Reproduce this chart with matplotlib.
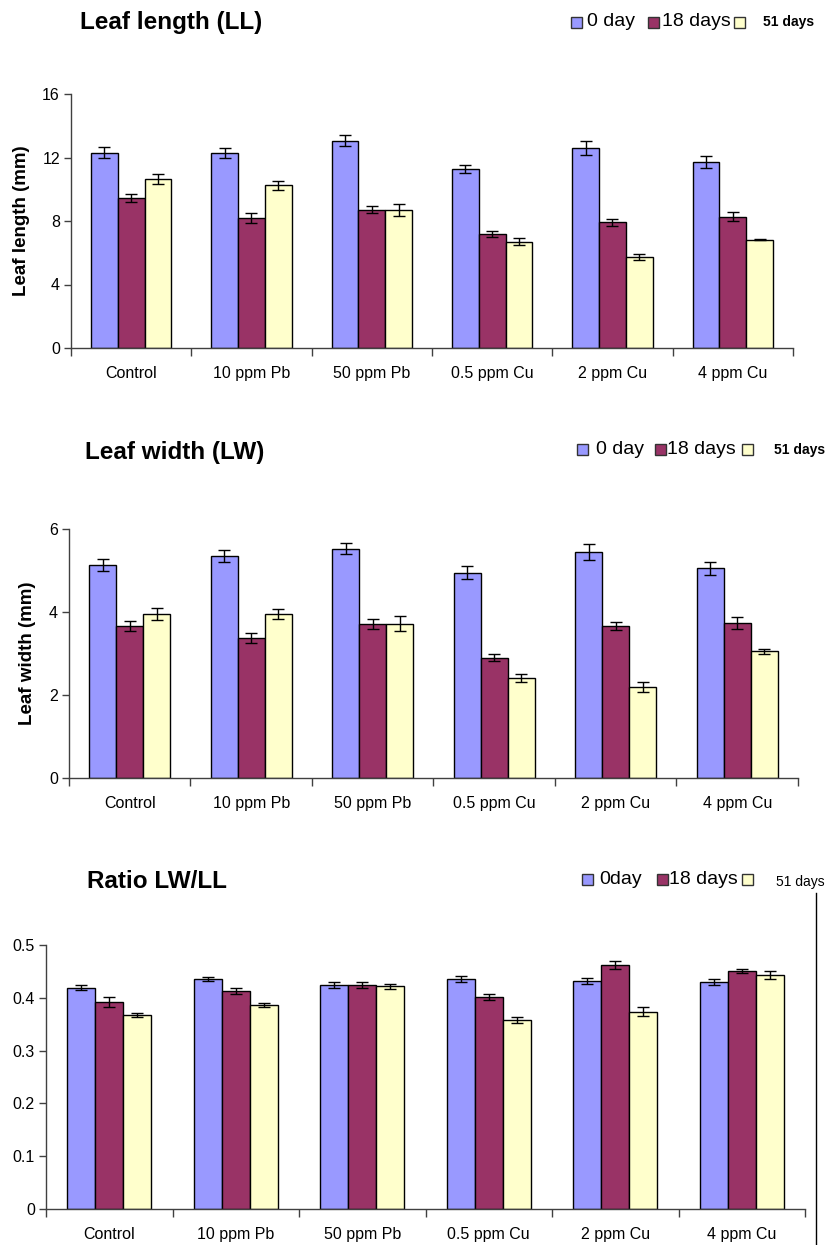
import matplotlib
matplotlib.use("Agg")
import matplotlib.pyplot as plt
from matplotlib.patches import Rectangle
from matplotlib.lines import Line2D
import numpy as np

plt.rcParams['font.family'] = ['Liberation Sans', 'DejaVu Sans']

categories = ["Control", "10 ppm Pb", "50 ppm Pb", "0.5 ppm Cu", "2 ppm Cu", "4 ppm Cu"]
series_names = ["0 day", "18 days", "51 days"]
colors = ["#9999FF", "#993366", "#FFFFCC"]

# Leaf length (mm)
ll_0 = [12.3, 12.3, 13.06, 11.3, 12.6, 11.72]
ll_18 = [9.43, 8.21, 8.72, 7.21, 7.92, 8.26]
ll_51 = [10.65, 10.25, 8.72, 6.69, 5.76, 6.83]
ll_0_err = [0.34, 0.31, 0.34, 0.25, 0.46, 0.38]
ll_18_err = [0.25, 0.31, 0.23, 0.19, 0.21, 0.29]
ll_51_err = [0.34, 0.29, 0.38, 0.23, 0.19, 0.03]

# Leaf width (mm)
lw_0 = [5.13, 5.35, 5.53, 4.95, 5.45, 5.05]
lw_18 = [3.67, 3.37, 3.70, 2.90, 3.67, 3.74]
lw_51 = [3.95, 3.95, 3.72, 2.41, 2.19, 3.05]
lw_0_err = [0.14, 0.14, 0.13, 0.15, 0.20, 0.15]
lw_18_err = [0.12, 0.12, 0.12, 0.09, 0.10, 0.15]
lw_51_err = [0.14, 0.12, 0.18, 0.10, 0.12, 0.06]

# Ratio LW/LL
r_0 = [0.419, 0.436, 0.424, 0.435, 0.432, 0.430]
r_18 = [0.392, 0.413, 0.424, 0.401, 0.462, 0.451]
r_51 = [0.368, 0.386, 0.422, 0.358, 0.374, 0.443]
r_0_err = [0.005, 0.004, 0.006, 0.006, 0.006, 0.005]
r_18_err = [0.010, 0.005, 0.005, 0.006, 0.008, 0.004]
r_51_err = [0.004, 0.004, 0.005, 0.005, 0.008, 0.007]

ll_ticks = [0, 4, 8, 12, 16]
lw_ticks = [0, 2, 4, 6]
r_ticks = [0, 0.1, 0.2, 0.3, 0.4, 0.5]
r_ticklabels = ["0", "0.1", "0.2", "0.3", "0.4", "0.5"]

W, H = 829, 1245
fig = plt.figure(figsize=(W / 100, H / 100), dpi=100)

AX_COLOR = "#404040"


def px_rect(l, r, t, b):
    return [l / W, 1 - b / H, (r - l) / W, (b - t) / H]


def draw_panel(rect, vals, errs, ticks, ticklabels, ymax, ylabel=None):
    ax = fig.add_axes(rect)
    x = np.arange(len(categories))
    bw = 1 / 4.5
    for i, (v, e) in enumerate(zip(vals, errs)):
        ax.bar(x + (i - 1) * bw, v, width=bw, color=colors[i], edgecolor="black",
               linewidth=1.0, zorder=2)
        ax.errorbar(x + (i - 1) * bw, v, yerr=e, fmt="none", ecolor="black",
                    elinewidth=1.0, capsize=4, capthick=1.0, zorder=3)
    ax.set_xlim(-0.5, len(categories) - 0.5)
    ax.set_ylim(0, ymax)
    ax.set_yticks(ticks)
    ax.set_yticklabels(ticklabels, fontsize=11.5)
    ax.set_xticks(np.arange(-0.5, len(categories)), minor=False)
    ax.set_xticklabels([])
    ax.set_xticks(x, minor=True)
    ax.set_xticklabels(categories, minor=True, fontsize=11.5)
    ax.tick_params(axis="x", which="minor", length=0, pad=13)
    ax.tick_params(axis="x", which="major", direction="out", length=6, color=AX_COLOR, width=1)
    ax.tick_params(axis="y", direction="out", length=5, color=AX_COLOR, width=1, pad=3)
    for s in ["top", "right"]:
        ax.spines[s].set_visible(False)
    for s in ["left", "bottom"]:
        ax.spines[s].set_color(AX_COLOR)
        ax.spines[s].set_linewidth(1)
    if ylabel:
        ax.set_ylabel(ylabel, fontsize=13.5, fontweight="bold", labelpad=9)
    return ax


ax1 = draw_panel(px_rect(71, 793, 94, 348), [ll_0, ll_18, ll_51],
                 [ll_0_err, ll_18_err, ll_51_err], ll_ticks, [str(t) for t in ll_ticks],
                 16, "Leaf length (mm)")
ax2 = draw_panel(px_rect(69, 798, 529, 778), [lw_0, lw_18, lw_51],
                 [lw_0_err, lw_18_err, lw_51_err], lw_ticks, [str(t) for t in lw_ticks],
                 6, "Leaf width (mm)")
ax3 = draw_panel(px_rect(46, 805, 945, 1209), [r_0, r_18, r_51],
                 [r_0_err, r_18_err, r_51_err], r_ticks, r_ticklabels, 0.5)

# titles
fig.text(80 / W, 1 - 22 / H, "Leaf length (LL)", fontsize=17.5, fontweight="bold",
         ha="left", va="center")
fig.text(85 / W, 1 - 453 / H, "Leaf width (LW)", fontsize=17.5, fontweight="bold",
         ha="left", va="center")
fig.text(87 / W, 1 - 881 / H, "Ratio LW/LL", fontsize=17.5, fontweight="bold",
         ha="left", va="center")


def legend(items, yc):
    # items: (square_left, text_left, label, fontsize, weight, dy)
    for i, (sx, tx, lab, fs, fw, dy) in enumerate(items):
        s = 11
        fig.patches.append(Rectangle((sx / W, 1 - (yc + s / 2) / H), s / W, s / H,
                                     transform=fig.transFigure, facecolor=colors[i],
                                     edgecolor="#333333", linewidth=1))
        fig.text(tx / W, 1 - (yc + dy) / H, lab, fontsize=fs, fontweight=fw,
                 ha="left", va="center")


legend([(571, 587, "0 day", 14, "normal", 0),
        (648, 662, "18 days", 14, "normal", 0),
        (734, 763, "51 days", 10, "bold", 0)], 22)
legend([(577, 596, "0 day", 14, "normal", 0),
        (655, 667, "18 days", 14, "normal", 0),
        (742, 774, "51 days", 10, "bold", 1)], 449)
legend([(582, 599, "0day", 14, "normal", 0),
        (657, 669, "18 days", 14, "normal", 0),
        (742, 776, "51 days", 10, "normal", 3)], 879)

# right border line of the third chart
fig.add_artist(Line2D([816 / W, 816 / W], [0, 1 - 893 / H], transform=fig.transFigure,
                      color="black", linewidth=1))

fig.savefig("out.png", dpi=100)
